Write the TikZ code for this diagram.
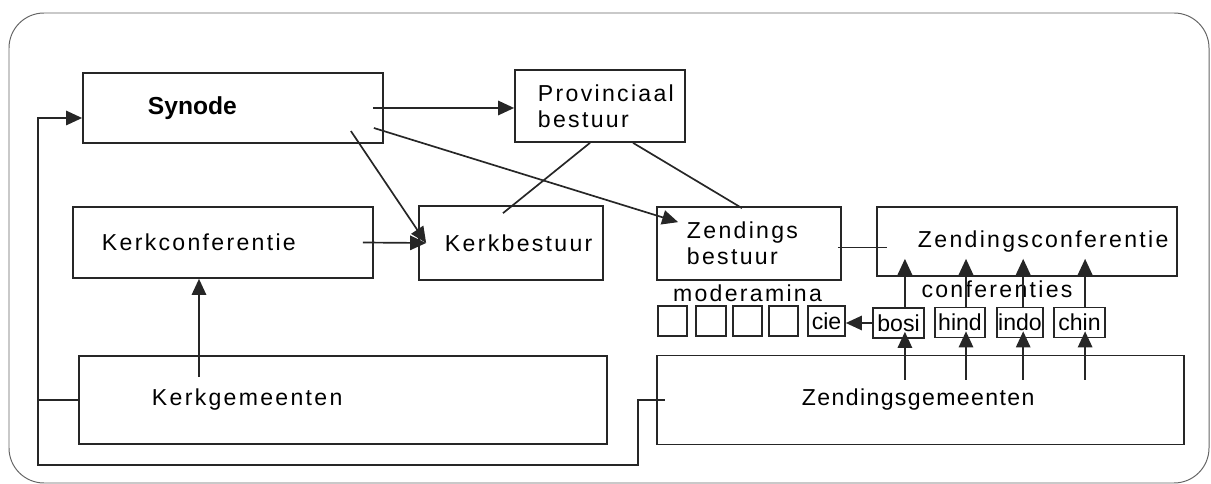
\documentclass[tikz,border=0pt]{standalone}
\usepackage{fontspec}
\setmainfont{Liberation Sans}
\usepackage{xcolor}
\usepackage{tikz}
\usetikzlibrary{arrows.meta, positioning}

\begin{document}
\begin{tikzpicture}[x=0.025cm, y=-0.025cm,
    block/.style={rectangle, draw=black!85, line width=1.2pt, inner sep=0pt, align=left,
        font=\fontsize{16.4}{18.6}\selectfont\addfontfeature{LetterSpace=10}},
    klein/.style={rectangle, draw=black!85, line width=1.2pt, inner sep=0pt, minimum height=0.75cm,
        font=\fontsize{16.4}{18.6}\selectfont},
    tekst/.style={inner sep=0pt, anchor=base, font=\fontsize{16.4}{18.6}\selectfont\addfontfeature{LetterSpace=10}},
    line/.style={draw=black!85, line width=1.2pt, -{Triangle[length=0.4cm, width=0.36cm]}},
    verbinding/.style={draw=black!85, line width=1.2pt},
    rand/.style={draw=black!60, line width=0.7pt, rounded corners=0.875cm}]

    \useasboundingbox (0,0) rectangle (1211,484);
    \draw [rand] (9,13) rectangle (1209,483);

    % bovenste rij
    \node [block, font=\fontsize{17.5}{20}\selectfont\bfseries, minimum width=7.5cm, minimum height=1.75cm, text width=4.25cm] (synode) at (233,108) {Synode};
    \node [block, minimum width=4.25cm, minimum height=1.8cm, text width=3.1cm] (prov) at (600,106) {Provinciaal\\bestuur};

    % middelste rij
    \node [block, minimum width=7.5cm, minimum height=1.775cm, text width=6.05cm] (kerkconf) at (223,242.5) {Kerkconferentie};
    \node [block, minimum width=4.6cm, minimum height=1.85cm, text width=3.3cm] (kerkbest) at (511,243) {Kerkbestuur};
    \node [block, minimum width=4.6cm, minimum height=1.825cm, text width=3.1cm] (zbest) at (749,243.5) {Zendings\\bestuur};
    \node [block, minimum width=7.5cm, minimum height=1.725cm, text width=5.45cm] (zconf) at (1027,241.5) {Zendingsconferentie};

    % moderamina en conferenties
    \node [tekst] (moderamina) at (747.5,302) {moderamina};
    \node [tekst] (conferenties) at (997,298) {conferenties};
    \node [klein, minimum width=0.725cm] (mod1) at (672.5,321) {};
    \node [klein, minimum width=0.75cm] (mod2) at (711,321) {};
    \node [klein, minimum width=0.725cm] (mod3) at (747.5,321) {};
    \node [klein, minimum width=0.725cm] (mod4) at (783.5,321) {};
    \node [klein, minimum width=0.925cm] (cie) at (826.5,321) {cie};
    \node [klein, minimum width=1.275cm] (bosi) at (898.5,323) {bosi};
    \node [klein, minimum width=1.25cm] (hind) at (960,322.5) {hind};
    \node [klein, minimum width=1.15cm] (indo) at (1020,322.5) {indo};
    \node [klein, minimum width=1.275cm] (chin) at (1079.5,322.5) {chin};

    % onderste rij
    \node [block, minimum width=13.2cm, minimum height=2.2cm, text width=9.55cm] (kgem) at (343,400) {Kerkgemeenten};
    \node [block, font=\fontsize{16.4}{18.6}\selectfont\addfontfeature{LetterSpace=6}, minimum width=13.175cm, minimum height=2.225cm, text width=5.925cm] (zgem) at (920.5,400) {Zendingsgemeenten};

    \path [line] ([xshift=-0.275cm]synode.east) -- (synode.east -| prov.west);
    \path [line] ([xshift=-0.825cm, yshift=-0.575cm]synode.east) -- ([xshift=0.2cm]kerkbest.west);
    \path [line] ([xshift=-0.25cm, yshift=-0.5cm]synode.east) -- ([xshift=0.55cm, yshift=-0.4cm]zbest.north west);
    \path [line] ([xshift=-0.275cm]kerkconf.east) -- ([xshift=0.2cm]kerkbest.west);
    \path [line] ([xshift=-0.6cm, yshift=-0.55cm]kgem.north -| kerkconf.south) -- ([xshift=-0.6cm]kerkconf.south);
    \path [verbinding] ([xshift=-0.25cm]prov.south) -- ([xshift=-0.2cm, yshift=-0.2cm]kerkbest.north);
    \path [verbinding] ([xshift=0.825cm]prov.south) -- ([xshift=-0.175cm, yshift=-0.05cm]zbest.north);
    \path [verbinding] ([xshift=-0.1cm, yshift=-0.1cm]zbest.east) -- ([xshift=0.275cm, yshift=-0.1cm]zbest.east -| zconf.west);
    \path [line] (bosi.west) -- (bosi.west -| cie.east);

    \foreach \n/\dx in {bosi/0.16, hind/0.15, indo/0.08, chin/0.14} {
        \path [line] ([xshift=\dx cm, yshift=-0.625cm]zgem.north -| \n.south) -- ([xshift=\dx cm, yshift=0.175cm]\n.south);
        \path [line] ([xshift=\dx cm]\n.north) -- ([xshift=\dx cm, yshift=0.45cm]\n.north |- zconf.south);
    }

    % terugkoppeling
    \coordinate (hoek) at ([xshift=-1cm]kgem.west);
    \path [verbinding] (kgem.west) -- (hoek);
    \path [line] (hoek) |- ([yshift=-0.25cm]synode.west);
    \path [verbinding] (hoek) |- ([xshift=0.75cm, yshift=-0.5cm]kgem.south east) |- ([xshift=0.225cm]zgem.west);
\end{tikzpicture}
\end{document}
